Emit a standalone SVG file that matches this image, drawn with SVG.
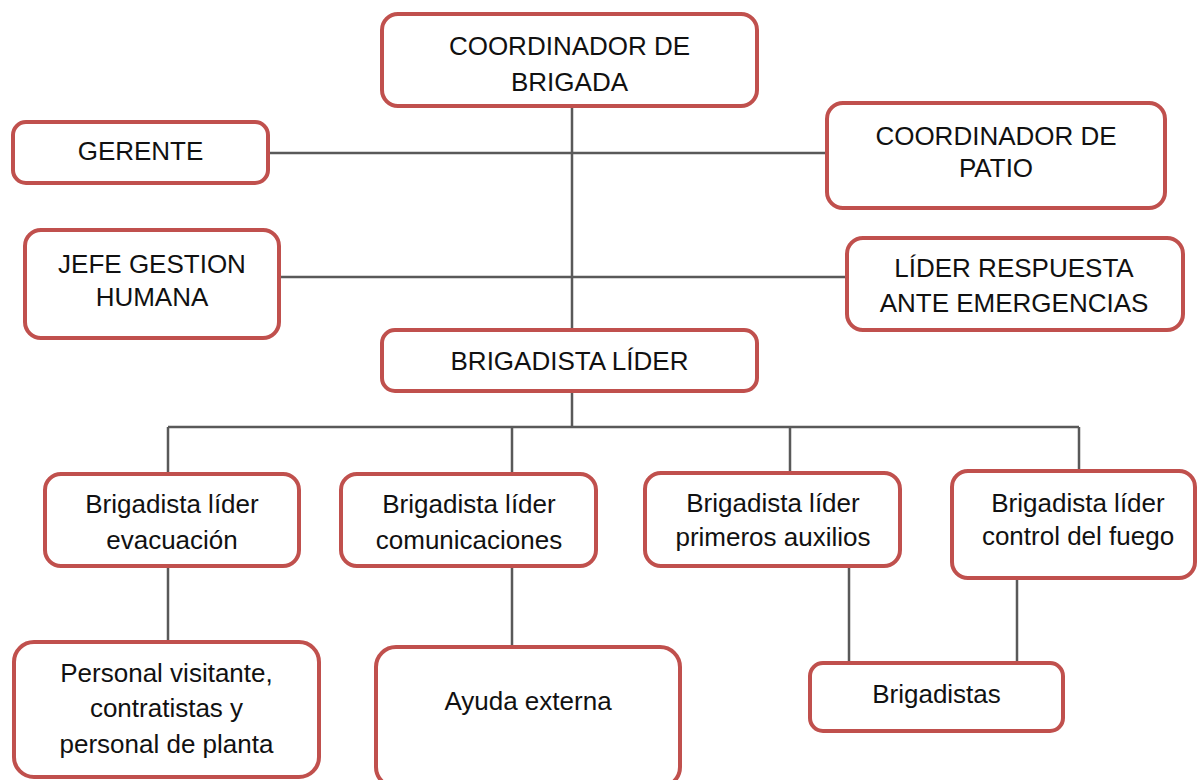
<svg xmlns="http://www.w3.org/2000/svg" width="1197" height="780" viewBox="0 0 1197 780">
<style>
.box{fill:#ffffff;stroke:#c0504d;stroke-width:4}
.ln{stroke:#595959;stroke-width:2.5;fill:none}
text{font-family:"Liberation Sans",Arial,sans-serif;font-size:26px;fill:#111111;text-anchor:middle}
</style>
<rect width="1197" height="780" fill="#ffffff"/>
<g id="connectors">
<path class="ln" d="M572 106V330M268 153H827M279 277H847M572 391V427M168 427H1079M168 427V474M512 427V474M790 427V473M1079 427V471M168 566V642M512 566V647M849 566V663M1017 578V663"/>
</g>
<g id="coord-brigada"><rect class="box" x="382" y="14" width="375" height="92" rx="16"/><text x="569.5" y="55">COORDINADOR DE</text><text x="569.5" y="91">BRIGADA</text></g>
<g id="gerente"><rect class="box" x="13" y="122" width="255" height="61" rx="13"/><text x="140.5" y="160">GERENTE</text></g>
<g id="coord-patio"><rect class="box" x="827" y="103" width="338" height="105" rx="16"/><text x="996" y="145">COORDINADOR DE</text><text x="996" y="177">PATIO</text></g>
<g id="jefe-gh"><rect class="box" x="25" y="230" width="254" height="108" rx="16"/><text x="152" y="273">JEFE GESTION</text><text x="152" y="306">HUMANA</text></g>
<g id="lider-resp"><rect class="box" x="847" y="238" width="336" height="92" rx="16"/><text x="1014" y="277">LÍDER RESPUESTA</text><text x="1014" y="312">ANTE EMERGENCIAS</text></g>
<g id="brig-lider"><rect class="box" x="382" y="330" width="375" height="61" rx="13"/><text x="569.5" y="370">BRIGADISTA LÍDER</text></g>
<g id="evacuacion"><rect class="box" x="45" y="474" width="254" height="92" rx="16"/><text x="172" y="513">Brigadista líder</text><text x="172" y="549">evacuación</text></g>
<g id="comunicaciones"><rect class="box" x="341" y="474" width="255" height="92" rx="16"/><text x="469" y="513">Brigadista líder</text><text x="469" y="549">comunicaciones</text></g>
<g id="primeros-auxilios"><rect class="box" x="645" y="473" width="255" height="93" rx="16"/><text x="773" y="512">Brigadista líder</text><text x="773" y="546">primeros auxilios</text></g>
<g id="control-fuego"><rect class="box" x="952" y="471" width="243" height="107" rx="16"/><text x="1078" y="512">Brigadista líder</text><text x="1078" y="545">control del fuego</text></g>
<g id="personal"><rect class="box" x="14" y="642" width="305" height="135" rx="20"/><text x="166.5" y="682">Personal visitante,</text><text x="166.5" y="717">contratistas y</text><text x="166.5" y="753">personal de planta</text></g>
<g id="ayuda-externa"><rect class="box" x="376" y="647" width="304" height="140" rx="20"/><text x="528" y="710">Ayuda externa</text></g>
<g id="brigadistas"><rect class="box" x="810" y="663" width="253" height="68" rx="13"/><text x="936.5" y="703">Brigadistas</text></g>
</svg>
